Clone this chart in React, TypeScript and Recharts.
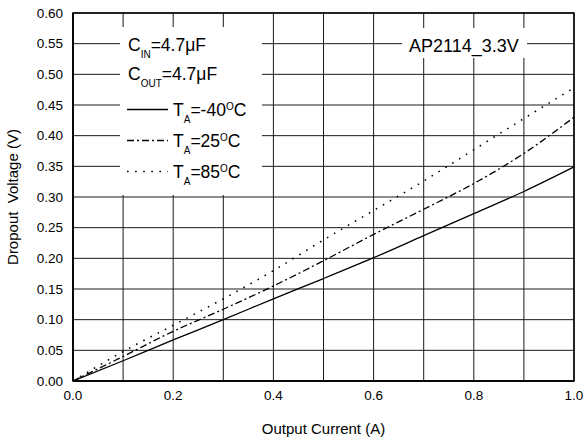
import { CartesianGrid, Line, LineChart, ReferenceArea, XAxis, YAxis } from "recharts";

// Output current (A)
const current = [0, 0.1, 0.2, 0.3, 0.4, 0.5, 0.6, 0.7, 0.8, 0.9, 1.0];
// Dropout voltage (V) per ambient temperature
const dropoutM40 = [0, 0.033, 0.067, 0.1, 0.134, 0.167, 0.201, 0.237, 0.273, 0.309, 0.349];
const dropout25 = [0, 0.04, 0.081, 0.117, 0.155, 0.196, 0.239, 0.28, 0.322, 0.371, 0.43];
const dropout85 = [0, 0.048, 0.091, 0.134, 0.18, 0.23, 0.278, 0.326, 0.377, 0.428, 0.478];

const xTicks = [0, 0.1, 0.2, 0.3, 0.4, 0.5, 0.6, 0.7, 0.8, 0.9, 1.0];
const yTicks = [0, 0.05, 0.1, 0.15, 0.2, 0.25, 0.3, 0.35, 0.4, 0.45, 0.5, 0.55, 0.6];

const FONT = '"Liberation Sans", Arial, sans-serif';
const DASH_DOT = "7 3 2 3";
const DOTTED = "1.6 6.5";

const data = current.map((c, i) => ({
  current: c,
  m40: dropoutM40[i],
  t25: dropout25[i],
  t85: dropout85[i],
}));

function TempLabel({ y, temp }: { y: number; temp: string }) {
  return (
    <text x={173} y={y} fontSize={17.5}>
      T<tspan fontSize={10} dy={7}>A</tspan>
      <tspan dy={-7}>={temp}</tspan>
      <tspan fontSize={10} dy={-6}>O</tspan>
      <tspan dy={6}>C</tspan>
    </text>
  );
}

function Overlay() {
  return (
    <svg width={584} height={447} style={styles.overlay}>
      <g fontFamily={FONT} fill="#000">
        <rect x={120} y={27} width={142} height={168} fill="#fff" />
        <text x={128} y={51} fontSize={17.5}>
          C<tspan fontSize={10} dy={7}>IN</tspan>
          <tspan dy={-7}>=4.7μF</tspan>
        </text>
        <text x={128} y={80} fontSize={17.5}>
          C<tspan fontSize={10} dy={7}>OUT</tspan>
          <tspan dy={-7}>=4.7μF</tspan>
        </text>

        <line x1={127} x2={168} y1={109.5} y2={109.5} stroke="#000" strokeWidth={1.3} />
        <TempLabel y={116} temp="-40" />

        <line x1={127} x2={168} y1={140.5} y2={140.5} stroke="#000" strokeWidth={1.3} strokeDasharray={DASH_DOT} />
        <TempLabel y={147} temp="25" />

        <line x1={127} x2={168} y1={171.5} y2={171.5} stroke="#000" strokeWidth={1.4} strokeDasharray={DOTTED} />
        <TempLabel y={178} temp="85" />

        <rect x={402} y={28} width={125} height={30} fill="#fff" />
        <text x={409} y={52} fontSize={18}>
          AP2114_3.3V
        </text>
      </g>
    </svg>
  );
}

export default function App() {
  return (
    <div style={styles.page}>
      <LineChart width={584} height={447} data={data} margin={{ top: 13, right: 10, bottom: 0, left: 0 }}>
        <CartesianGrid stroke="#1a1a1a" strokeWidth={1} />
        <XAxis
          dataKey="current"
          type="number"
          domain={[0, 1]}
          ticks={xTicks}
          tickFormatter={(v: number) => (Math.round(v * 10) % 2 === 0 ? v.toFixed(1) : "")}
          tick={{ fill: "#000", fontSize: 13.5, fontFamily: FONT }}
          tickLine={false}
          tickSize={0}
          tickMargin={9}
          axisLine={{ stroke: "#000", strokeWidth: 1.5 }}
          height={66}
          interval={0}
          label={{
            value: "Output Current (A)",
            position: "insideBottom",
            offset: 13,
            style: { fill: "#000", fontSize: 15, fontFamily: FONT },
          }}
        />
        <YAxis
          type="number"
          domain={[0, 0.6]}
          ticks={yTicks}
          tickFormatter={(v: number) => v.toFixed(2)}
          tick={{ fill: "#000", fontSize: 13.5, fontFamily: FONT }}
          tickLine={false}
          tickSize={0}
          tickMargin={10}
          axisLine={{ stroke: "#000", strokeWidth: 1.5 }}
          width={73}
          interval={0}
          label={{
            value: "Dropout\u00A0 Voltage (V)",
            angle: -90,
            position: "insideLeft",
            offset: 13,
            style: { fill: "#000", fontSize: 15, fontFamily: FONT, textAnchor: "middle" },
          }}
        />
        <ReferenceArea x1={0} x2={1} y1={0} y2={0.6} fill="none" stroke="#000" strokeWidth={1.5} />
        <Line type="monotone" dataKey="m40" stroke="#000" strokeWidth={1.3} dot={false} isAnimationActive={false} />
        <Line
          type="monotone"
          dataKey="t25"
          stroke="#000"
          strokeWidth={1.3}
          strokeDasharray={DASH_DOT}
          dot={false}
          isAnimationActive={false}
        />
        <Line
          type="monotone"
          dataKey="t85"
          stroke="#000"
          strokeWidth={1.5}
          strokeDasharray={DOTTED}
          dot={false}
          isAnimationActive={false}
        />
      </LineChart>
      <Overlay />
    </div>
  );
}

const styles: Record<string, React.CSSProperties> = {
  page: {
    position: "absolute",
    left: 0,
    top: 0,
    width: 584,
    height: 447,
    background: "#fff",
  },
  overlay: {
    position: "absolute",
    left: 0,
    top: 0,
    pointerEvents: "none",
  },
};
